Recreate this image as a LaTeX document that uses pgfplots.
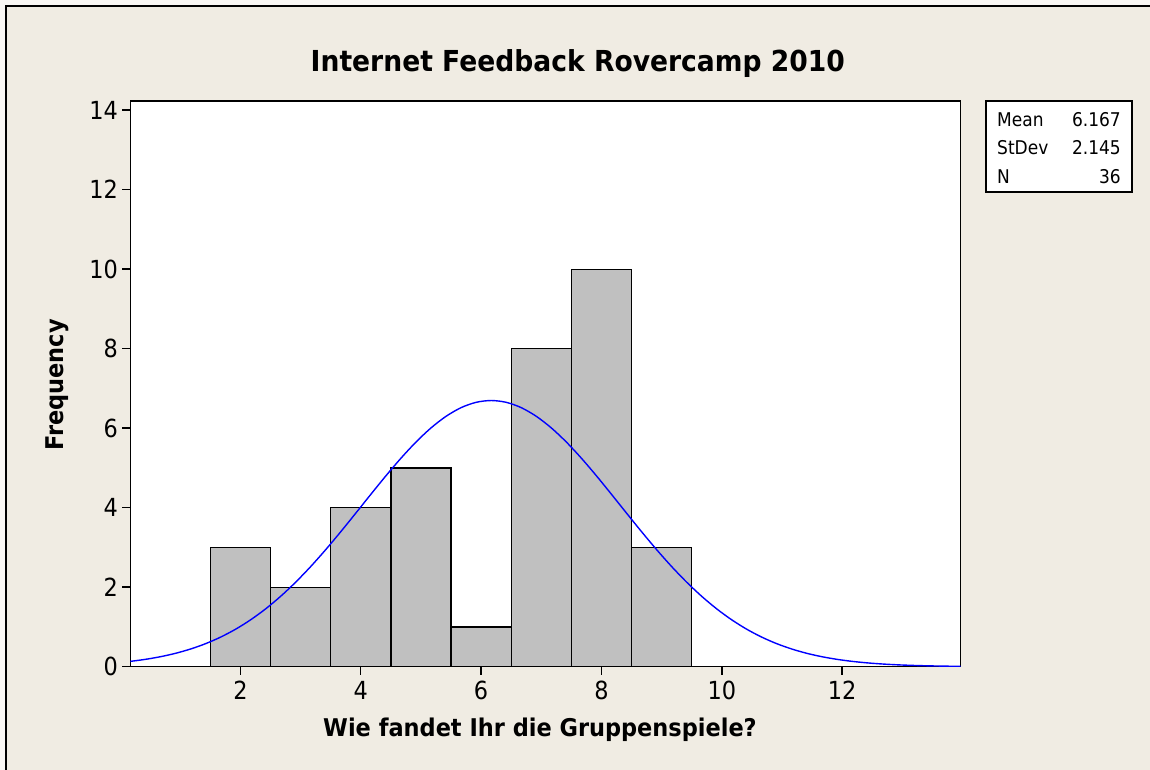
\documentclass[border=0pt]{standalone}
\usepackage{pgfplots}
\pgfplotsset{compat=1.18}
\usepackage{fontspec}
\setmainfont{DejaVu Sans}[FakeStretch=0.9]
\newfontfamily\bfont{DejaVu Sans}[FakeStretch=0.92]
\definecolor{bgc}{RGB}{240,236,227}
\definecolor{barc}{RGB}{192,192,192}
\begin{document}
\begin{tikzpicture}
\useasboundingbox (0,0) rectangle (1150bp,770bp);
\fill[white!60!bgc] (-10bp,-10bp) rectangle (1165bp,780bp);
\fill[bgc] (6bp,-10bp) rectangle (1165bp,764bp);
\draw[line width=1.5bp] (6bp,-10bp) -- (6bp,764bp) -- (1165bp,764bp);
\begin{axis}[
  at={(130.3bp,103.3bp)}, anchor=south west,
  width=830.4bp, height=565.7bp, scale only axis,
  xmin=0.17, xmax=13.97, ymin=0, ymax=14.23,
  xtick={2,4,6,8,10,12}, ytick={0,2,4,6,8,10,12,14},
  xtick pos=bottom, ytick pos=left, tick align=outside,
  major tick length=8bp,
  axis line style={line width=1.4bp},
  major tick style={line width=1.4bp, black},
  axis background/.style={fill=white},
  /pgf/number format/assume math mode=true,
  ticklabel style={font=\fontsize{25}{29}\selectfont},
  xticklabel style={yshift=-3bp},
  yticklabel style={xshift=-1bp},
]
\addplot[ybar interval, fill=barc, draw=black, line width=1.3bp] coordinates {
(0.5,0)(1.5,3)(2.5,2)(3.5,4)(4.5,5)(5.5,1)(6.5,8)(7.5,10)(8.5,3)(9.5,0)(10.5,0)};
\addplot[blue, line width=1.4bp, smooth, no markers] coordinates {
(-0.083,0.0960)(0.167,0.1339)(0.417,0.1842)(0.667,0.2501)(0.917,0.3349)
(1.167,0.4428)(1.417,0.5767)(1.667,0.7415)(1.917,0.9404)(2.167,1.1767)
(2.417,1.4525)(2.667,1.7687)(2.917,2.1246)(3.167,2.5178)(3.417,2.9436)
(3.667,3.3948)(3.917,3.8624)(4.167,4.3351)(4.417,4.8001)(4.667,5.2432)
(4.917,5.6499)(5.167,6.0061)(5.417,6.2985)(5.667,6.5161)(5.917,6.6502)
(6.167,6.6955)(6.417,6.6502)(6.667,6.5161)(6.917,6.2985)(7.167,6.0061)
(7.417,5.6499)(7.667,5.2432)(7.917,4.8001)(8.167,4.3351)(8.417,3.8624)
(8.667,3.3948)(8.917,2.9436)(9.167,2.5178)(9.417,2.1246)(9.667,1.7687)
(9.917,1.4525)(10.167,1.1767)(10.417,0.9404)(10.667,0.7415)(10.917,0.5767)
(11.167,0.4428)(11.417,0.3349)(11.667,0.2501)(11.917,0.1842)(12.167,0.1339)
(12.417,0.0960)(12.667,0.0679)(12.917,0.0474)(13.167,0.0326)(13.417,0.0221)
(13.667,0.0148)(13.917,0.0098)(14.167,0.0064)};
\end{axis}
\node[anchor=base, inner sep=0pt, font=\bfont\bfseries\fontsize{29}{34}\selectfont] at (577.8bp,698.3bp) {Internet Feedback Rovercamp 2010};
\node[anchor=base, inner sep=0pt, font=\bfont\bfseries\fontsize{24.5}{29}\selectfont] at (540bp,34bp) {Wie fandet Ihr die Gruppenspiele?};
\node[anchor=base, rotate=90, inner sep=0pt, font=\bfont\bfseries\fontsize{24.5}{29}\selectfont] at (63bp,385bp) {Frequency};
\draw[line width=1.3bp, fill=white] (986bp,669bp) rectangle (1132bp,578bp);
\begin{scope}[every node/.style={inner sep=0pt, font=\fontsize{19}{22}\selectfont}]
\node[anchor=base west] at (997bp,643bp) {Mean};
\node[anchor=base east] at (1121bp,643bp) {6.167};
\node[anchor=base west] at (997bp,615bp) {StDev};
\node[anchor=base east] at (1121bp,615bp) {2.145};
\node[anchor=base west] at (997bp,586bp) {N};
\node[anchor=base east] at (1121bp,586bp) {36};
\end{scope}
\end{tikzpicture}
\end{document}
